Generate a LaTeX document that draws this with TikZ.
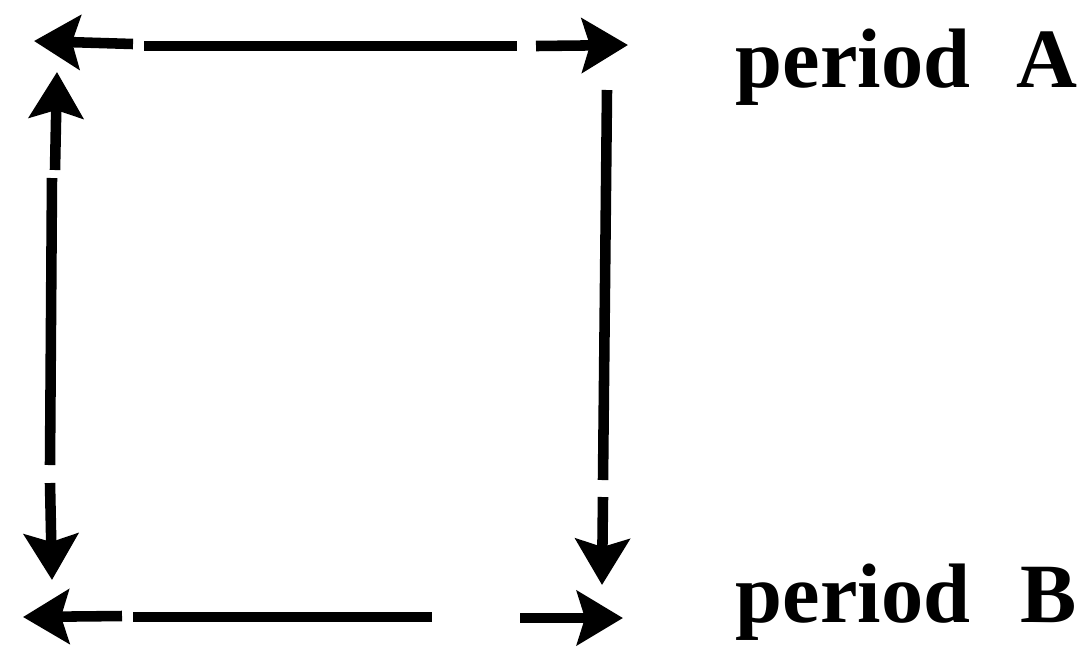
\documentclass[tikz,border=0pt]{standalone}
\usepackage{fontspec}
\setmainfont{Liberation Serif}
\usetikzlibrary{arrows.meta}
\begin{document}
\begin{tikzpicture}[x=0.01cm,y=-0.01cm,
    edge/.style={line width=3pt},
    arr/.style={edge,-{Stealth[length=4.6mm,width=5.4mm,inset=0.8mm]}},
    lbl/.style={anchor=base west,inner sep=0pt,
                font=\fontsize{24}{28}\selectfont\bfseries}
  ]
  \useasboundingbox (0,0) rectangle (1085,657);

  % top edge
  \coordinate (t0) at (133,44);  \coordinate (t1) at (34,41);
  \coordinate (t2) at (144,46);  \coordinate (t3) at (517,46);
  \coordinate (t4) at (536,46);  \coordinate (t5) at (628,45);
  % left edge
  \coordinate (l0) at (55,170);  \coordinate (l1) at (57,72);
  \coordinate (l2) at (52,178);  \coordinate (l3) at (50,465);
  \coordinate (l4) at (50,483);  \coordinate (l5) at (52,580);
  % right edge
  \coordinate (r2) at (607,90);  \coordinate (r3) at (603,480);
  \coordinate (r4) at (603,497); \coordinate (r5) at (602,585);
  % bottom edge
  \coordinate (b0) at (122,616); \coordinate (b1) at (23,617);
  \coordinate (b2) at (133,617); \coordinate (b3) at (432,617);
  \coordinate (b4) at (520,618); \coordinate (b5) at (623,618);

  \draw[arr]  (t0)--(t1);
  \draw[edge] (t2)--(t3);
  \draw[arr]  (t4)--(t5);

  \draw[arr]  (l0)--(l1);
  \draw[edge] (l2)--(l3);
  \draw[arr]  (l4)--(l5);

  \draw[edge] (r2)--(r3);
  \draw[arr]  (r4)--(r5);

  \draw[arr]  (b0)--(b1);
  \draw[edge] (b2)--(b3);
  \draw[arr]  (b4)--(b5);

  \node[lbl] (perA) at (735,87)  {period\hspace{0.46cm}A};
  \node[lbl] (perB) at (735,622) {period\hspace{0.50cm}B};
\end{tikzpicture}
\end{document}
